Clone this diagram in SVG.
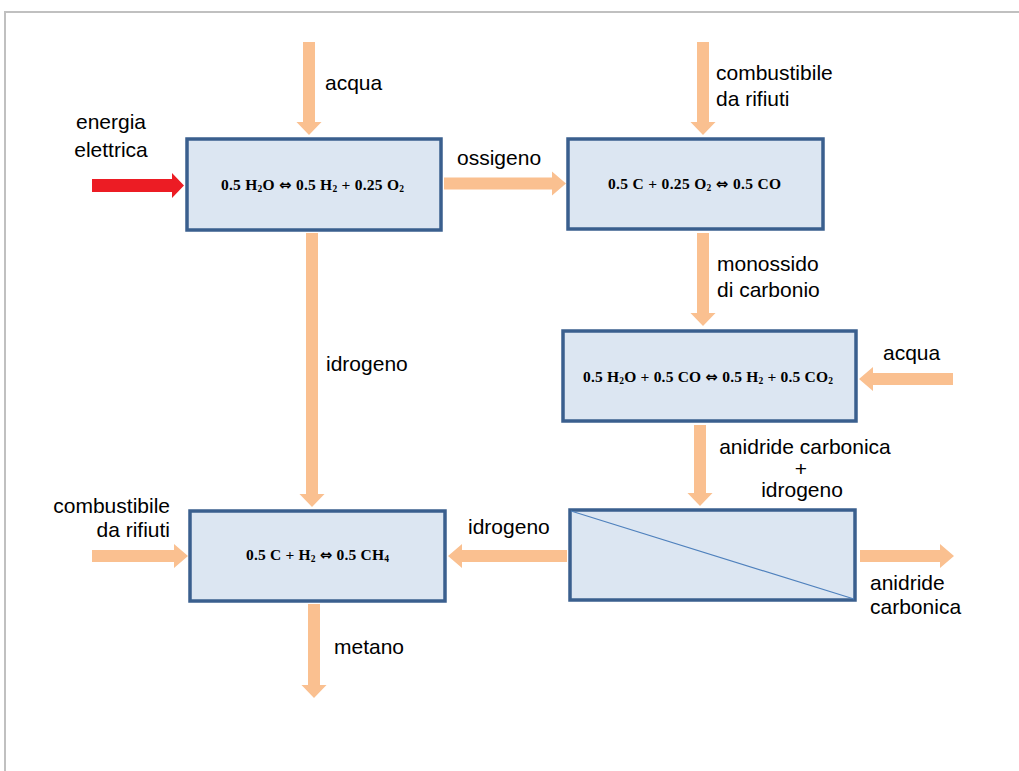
<svg xmlns="http://www.w3.org/2000/svg" width="1019" height="771" viewBox="0 0 1019 771">
<style>
.box{fill:#DCE6F2;stroke:#3A5F8E;stroke-width:3.5}
.arr{fill:#FAC090}
.red{fill:#EC1C24}
.lbl{font-family:"Liberation Sans",Arial,sans-serif;font-size:21px;fill:#000}
.eq{font-family:"Liberation Serif","Times New Roman",serif;font-size:15.5px;font-weight:bold;fill:#000}
.sub{font-size:9.5px}
.iff{font-family:"DejaVu Sans",sans-serif;font-size:15px;font-weight:bold}
.frame{fill:none;stroke:#C0C0C0;stroke-width:2}
</style>
<rect width="1019" height="771" fill="#FFFFFF"/>
<path class="frame" d="M5,771 V12 H1019"/>

<g id="connectors">
  <polygon class="arr" points="303,42 315,42 315,122 321.5,122 309,135 296.5,122 303,122"/>
  <polygon class="red" points="92,179 172,179 172,173 184,185.5 172,198 172,192 92,192"/>
  <polygon class="arr" points="444,177.5 552,177.5 552,171.5 566,183.5 552,195.5 552,189.5 444,189.5"/>
  <polygon class="arr" points="697,42 709,42 709,122 715.5,122 703,135 690.5,122 697,122"/>
  <polygon class="arr" points="697,233 709,233 709,313 715.5,313 703,326 690.5,313 697,313"/>
  <polygon class="arr" points="953,373 873,373 873,367 859,379 873,391 873,385 953,385"/>
  <polygon class="arr" points="306,233 318,233 318,494 324.5,494 312,507 299.5,494 306,494"/>
  <polygon class="arr" points="694,425 706,425 706,493 712.5,493 700,506 687.5,493 694,493"/>
  <polygon class="arr" points="92,550 174,550 174,544 188,556 174,568 174,562 92,562"/>
  <polygon class="arr" points="567,550 462,550 462,544 448,556 462,568 462,562 567,562"/>
  <polygon class="arr" points="860,550 940,550 940,544 954,556 940,568 940,562 860,562"/>
  <polygon class="arr" points="308,604 320,604 320,685 326.5,685 314,698 301.5,685 308,685"/>
</g>

<g id="node-elettrolisi">
  <rect class="box" x="187" y="139" width="254" height="91"/>
  <text class="eq" x="221" y="190" textLength="183">0.5 H<tspan class="sub" dy="2">2</tspan><tspan dy="-2">O </tspan><tspan class="iff">⇔</tspan> 0.5 H<tspan class="sub" dy="2">2</tspan><tspan dy="-2"> + 0.25  O</tspan><tspan class="sub" dy="2">2</tspan></text>
</g>
<g id="node-gassificazione">
  <rect class="box" x="568" y="139" width="255" height="90"/>
  <text class="eq" x="608" y="189" textLength="173">0.5 C + 0.25 O<tspan class="sub" dy="2">2</tspan><tspan dy="-2"> </tspan><tspan class="iff">⇔</tspan> 0.5 CO</text>
</g>
<g id="node-shift">
  <rect class="box" x="563" y="331" width="293" height="90"/>
  <text class="eq" x="583" y="382" textLength="250">0.5 H<tspan class="sub" dy="2">2</tspan><tspan dy="-2">O + 0.5 CO </tspan><tspan class="iff">⇔</tspan> 0.5 H<tspan class="sub" dy="2">2</tspan><tspan dy="-2"> + 0.5 CO</tspan><tspan class="sub" dy="2">2</tspan></text>
</g>
<g id="node-metanazione">
  <rect class="box" x="190" y="511" width="255" height="90"/>
  <text class="eq" x="246" y="560" textLength="143">0.5 C + H<tspan class="sub" dy="2">2</tspan><tspan dy="-2"> </tspan><tspan class="iff">⇔</tspan> 0.5  CH<tspan class="sub" dy="2">4</tspan></text>
</g>
<g id="node-separatore">
  <rect class="box" x="570" y="510" width="285" height="90"/>
  <line x1="571" y1="511" x2="854" y2="599" stroke="#4F81BD" stroke-width="1.2"/>
</g>

<g id="labels">
  <text class="lbl" x="325" y="90">acqua</text>
  <text class="lbl" x="111" y="129" text-anchor="middle">energia</text>
  <text class="lbl" x="111" y="157" text-anchor="middle">elettrica</text>
  <text class="lbl" x="457" y="165">ossigeno</text>
  <text class="lbl" x="716" y="80">combustibile</text>
  <text class="lbl" x="716" y="106">da rifiuti</text>
  <text class="lbl" x="717" y="271">monossido</text>
  <text class="lbl" x="717" y="297">di carbonio</text>
  <text class="lbl" x="883" y="360">acqua</text>
  <text class="lbl" x="326" y="371">idrogeno</text>
  <text class="lbl" x="805" y="454" text-anchor="middle">anidride carbonica</text>
  <text class="lbl" x="801" y="476" text-anchor="middle">+</text>
  <text class="lbl" x="802" y="497" text-anchor="middle">idrogeno</text>
  <text class="lbl" x="170" y="513" text-anchor="end">combustibile</text>
  <text class="lbl" x="170" y="537" text-anchor="end">da rifiuti</text>
  <text class="lbl" x="468" y="534">idrogeno</text>
  <text class="lbl" x="870" y="590">anidride</text>
  <text class="lbl" x="870" y="614">carbonica</text>
  <text class="lbl" x="334" y="654">metano</text>
</g>
</svg>
